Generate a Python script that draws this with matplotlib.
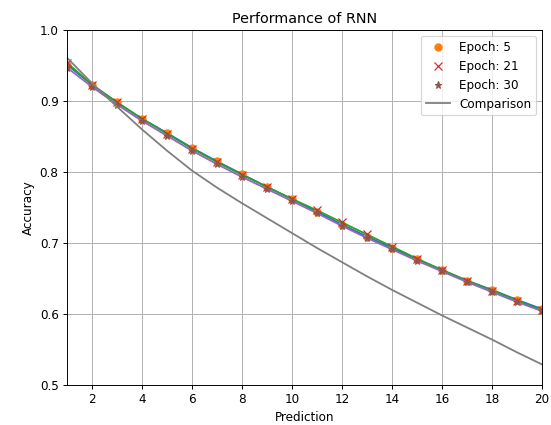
import numpy as np
import matplotlib
matplotlib.use("Agg")
import matplotlib.pyplot as plt

# prediction steps
steps = np.arange(1, 21)

# accuracy per epoch
acc_epoch5 = [0.951, 0.923, 0.898, 0.875, 0.855, 0.834, 0.815, 0.797, 0.779, 0.762,
              0.744, 0.726, 0.709, 0.693, 0.677, 0.662, 0.647, 0.634, 0.620, 0.607]
acc_epoch21 = [0.954, 0.923, 0.898, 0.875, 0.854, 0.833, 0.814, 0.796, 0.779, 0.762,
               0.746, 0.729, 0.712, 0.695, 0.678, 0.662, 0.647, 0.633, 0.619, 0.605]
acc_epoch30 = [0.947, 0.920, 0.895, 0.872, 0.851, 0.830, 0.811, 0.793, 0.776, 0.759,
               0.742, 0.724, 0.707, 0.691, 0.675, 0.660, 0.645, 0.631, 0.617, 0.604]
acc_comparison = [0.961, 0.925, 0.892, 0.860, 0.830, 0.802, 0.778, 0.756, 0.735, 0.714,
                  0.693, 0.673, 0.653, 0.634, 0.616, 0.598, 0.581, 0.564, 0.546, 0.529]


def main():
    fig = plt.figure(figsize=(551 / 86, 425 / 86), dpi=86)
    ax = fig.add_axes([67 / 551, 1 - 385 / 425, 475 / 551, 355 / 425])

    # fitted lines plus the measured points for each epoch
    ax.plot(steps, acc_epoch5, color='C0')
    ax.plot(steps, acc_epoch5, 'o', color='C1', label='Epoch: 5')
    ax.plot(steps, acc_epoch21, color='C2')
    ax.plot(steps, acc_epoch21, 'x', color='C3', label='Epoch: 21')
    ax.plot(steps, acc_epoch30, color='C4')
    ax.plot(steps, acc_epoch30, '*', color='C5', label='Epoch: 30')
    ax.plot(steps, acc_comparison, color='C7', label='Comparison')

    ax.set_xlim(1, 20)
    ax.set_ylim(0.5, 1.0)
    ax.set_xticks(range(2, 21, 2))
    ax.set_title('Performance of RNN')
    ax.set_xlabel('Prediction')
    ax.set_ylabel('Accuracy')
    ax.grid(True)
    ax.legend(loc='upper right')

    fig.savefig('out.png', dpi=86)


if __name__ == "__main__":
    main()
